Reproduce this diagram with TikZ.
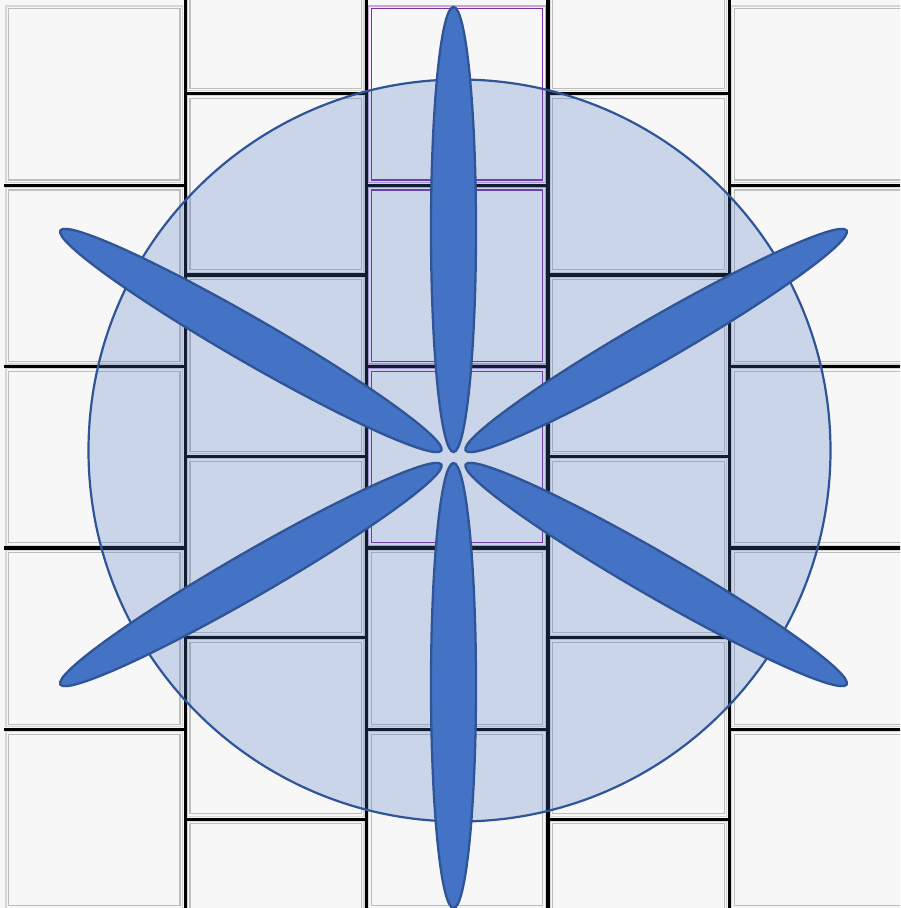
\documentclass[tikz,border=0pt]{standalone}
\usepackage{tikz}
\definecolor{tilefill}{HTML}{F7F7F7}
\definecolor{tileouter}{HTML}{D6D6D6}
\definecolor{tileinner}{HTML}{BDBDBD}
\definecolor{purpouter}{HTML}{C9A3DB}
\definecolor{purpinner}{HTML}{7B2FA3}
\definecolor{petalblue}{HTML}{4472C4}
\definecolor{petaledge}{HTML}{2F5597}
\tikzset{
  tileo/.style={draw=tileouter, line width=1.1pt},
  tilei/.style={draw=tileinner, line width=1.1pt},
  purpo/.style={draw=purpouter, line width=1.1pt},
  purpi/.style={draw=purpinner, line width=1.1pt},
  gridline/.style={draw=black, line width=3.2pt},
  bigdisc/.style={fill=petalblue, fill opacity=0.25, draw=petaledge, draw opacity=1, line width=2.2pt},
  petal/.style={fill=petalblue, draw=petaledge, line width=2.3pt},
}
\begin{document}
\begin{tikzpicture}[x=1pt,y=-1pt]
\useasboundingbox (0,0) rectangle (900,908);
\clip (0,0) rectangle (900,908);
\fill[tilefill] (0,0) rectangle (900,908);
% even columns: rows aligned with column grid
\foreach \c in {0,2,4} {
  \foreach \r in {0,...,4} {
    \pgfmathsetmacro\xa{3.8+\c*181.4}
    \pgfmathsetmacro\xb{3.8+(\c+1)*181.4}
    \pgfmathsetmacro\ya{3.8+\r*181.4}
    \pgfmathsetmacro\yb{3.8+(\r+1)*181.4}
    \draw[tileo] (\xa+2.2,\ya+2.2) rectangle (\xb-2.6,\yb-2.6);
    \draw[tilei] (\xa+4.8,\ya+4.8) rectangle (\xb-5.2,\yb-5.2);
  }
}
% odd columns: rows shifted by half a tile
\foreach \c in {1,3} {
  \foreach \r in {0,...,5} {
    \pgfmathsetmacro\xa{3.8+\c*181.4}
    \pgfmathsetmacro\xb{3.8+(\c+1)*181.4}
    \pgfmathsetmacro\ya{93.5+(\r-1)*181.4}
    \pgfmathsetmacro\yb{93.5+\r*181.4}
    \draw[tileo] (\xa+2.2,\ya+2.2) rectangle (\xb-2.6,\yb-2.6);
    \draw[tilei] (\xa+4.8,\ya+4.8) rectangle (\xb-5.2,\yb-5.2);
  }
}
% purple tiles in the middle column
\foreach \r in {0,1,2} {
  \pgfmathsetmacro\xa{3.8+2*181.4}
  \pgfmathsetmacro\xb{3.8+3*181.4}
  \pgfmathsetmacro\ya{3.8+\r*181.4}
  \pgfmathsetmacro\yb{3.8+(\r+1)*181.4}
  \fill[tilefill] (\xa+1.5,\ya+1.5) rectangle (\xb-1.5,\yb-1.5);
  \draw[purpo] (\xa+2.2,\ya+2.2) rectangle (\xb-2.6,\yb-2.6);
  \draw[purpi] (\xa+4.8,\ya+4.8) rectangle (\xb-5.2,\yb-5.2);
}
% black joints
\foreach \c in {0,2,4} {
  \foreach \r in {1,...,4} {
    \draw[gridline] (3.8+\c*181.4,3.8+\r*181.4) -- (3.8+\c*181.4+181.4,3.8+\r*181.4);
  }
}
\foreach \c in {1,3} {
  \foreach \r in {0,...,4} {
    \draw[gridline] (3.8+\c*181.4,93.5+\r*181.4) -- (3.8+\c*181.4+181.4,93.5+\r*181.4);
  }
}
\foreach \c in {1,...,4} {
  \draw[gridline] (3.8+\c*181.4,0) -- (3.8+\c*181.4,908);
}
% large disc
\draw[bigdisc] (459.5,450.5) circle [radius=371pt];
% petals
\foreach \a in {90,270} {
  \draw[petal, shift={(453.5,457.5)}, rotate=\a] (228pt,0pt) ellipse [x radius=222.5pt, y radius=22.5pt];
}
\foreach \a in {30,150,210,330} {
  \draw[petal, shift={(453.5,457.5)}, rotate=\a] (234pt,0pt) ellipse [x radius=220pt, y radius=22pt];
}
\end{tikzpicture}
\end{document}
